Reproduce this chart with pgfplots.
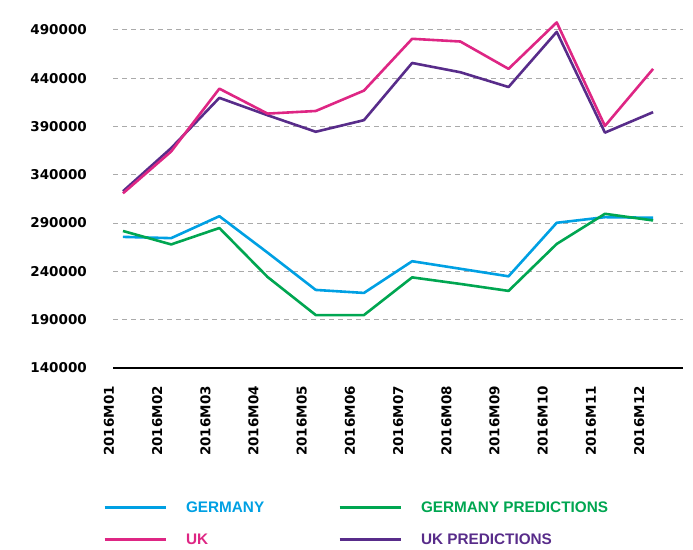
\documentclass[border=0pt]{standalone}
\usepackage{pgfplots}
\pgfplotsset{compat=1.18}
\usepackage{fontspec}
\setmainfont{Liberation Sans}
\newfontfamily\tickfont{DejaVu Sans}
\definecolor{cblue}{RGB}{0,160,227}
\definecolor{cpink}{RGB}{222,38,132}
\definecolor{cgreen}{RGB}{0,166,81}
\definecolor{cpurple}{RGB}{88,44,138}
\definecolor{cgrid}{RGB}{170,170,170}
\newcommand{\tf}{\tickfont\bfseries\fontsize{13.5}{14}\selectfont}
\newcommand{\lf}{\bfseries\fontsize{15.3}{16}\selectfont}
\begin{document}
\begin{tikzpicture}
\path (0,0) rectangle (693pt,549pt);
\begin{axis}[
  scale only axis,
  width=570pt, height=357.5pt,
  at={(113pt,181pt)}, anchor=south west,
  xmin=-0.207, xmax=11.62,
  ymin=140000, ymax=510000,
  axis line style={draw=none},
  major tick length=0pt,
  tick style={draw=none},
  scaled y ticks=false,
  ytick={190000,240000,290000,340000,390000,440000,490000},
  yticklabels={190000,240000,290000,340000,390000,440000,490000},
  extra y ticks={140000},
  extra y tick labels={140000},
  extra y tick style={grid style={solid, black, line width=1.2pt, dash pattern=}},
  ymajorgrids,
  grid style={cgrid, line width=1.1pt, dash pattern=on 5pt off 4pt},
  yticklabel style={font=\tf, anchor=east, inner sep=0pt, xshift=-26pt},
  xtick={0,1,2,3,4,5,6,7,8,9,10,11},
  xticklabels={2016M01,2016M02,2016M03,2016M04,2016M05,2016M06,2016M07,2016M08,2016M09,2016M10,2016M11,2016M12},
  xticklabel style={xshift=-14pt, font=\tf, rotate=90, anchor=east, inner sep=0pt},
  xticklabel shift=18pt,
  legend columns=2,
  legend cell align=left,
  legend style={draw=none, fill=none, inner sep=0pt, outer sep=0pt,
    at={(-0.0175,-0.3734)}, anchor=north west,
    nodes={inner sep=0pt},
    row sep=20pt,
    /tikz/every odd column/.style={column sep=19pt},
    /tikz/every even column/.style={column sep=72pt}},
  legend image code/.code={\draw[#1, line width=3pt] (0pt,0.5pt) -- (61pt,0.5pt);},
  every axis plot/.append style={line width=2.6pt, line join=round},
]
\addplot[cblue, forget plot] coordinates {
(0,275700) (1,274400) (2,297100) (3,259400) (4,220800) (5,217700)
(6,250500) (7,242700) (8,234900) (9,290300) (10,296100) (11,295500)};
\addplot[cgreen, forget plot] coordinates {
(0,281800) (1,267900) (2,284900) (3,234200) (4,194800) (5,194800)
(6,233800) (7,227000) (8,219800) (9,268400) (10,299600) (11,292700)};
\addplot[cpurple, forget plot] coordinates {
(0,322900) (1,367600) (2,419600) (3,401600) (4,384500) (5,396500)
(6,455700) (7,446100) (8,430800) (9,487900) (10,383600) (11,404800)};
\addplot[cpink, forget plot] coordinates {
(0,320800) (1,364100) (2,429100) (3,403300) (4,406000) (5,427100)
(6,480700) (7,477900) (8,449600) (9,497700) (10,390500) (11,449600)};
\addlegendimage{cblue}
\addlegendentry{\makebox[80pt][l]{\lf\textcolor{cblue}{GERMANY}}}
\addlegendimage{cgreen}
\addlegendentry{\lf\textcolor{cgreen}{GERMANY PREDICTIONS}}
\addlegendimage{cpink}
\addlegendentry{\makebox[80pt][l]{\lf\textcolor{cpink}{UK}}}
\addlegendimage{cpurple}
\addlegendentry{\lf\textcolor{cpurple}{UK PREDICTIONS}}
\end{axis}
\end{tikzpicture}
\end{document}
